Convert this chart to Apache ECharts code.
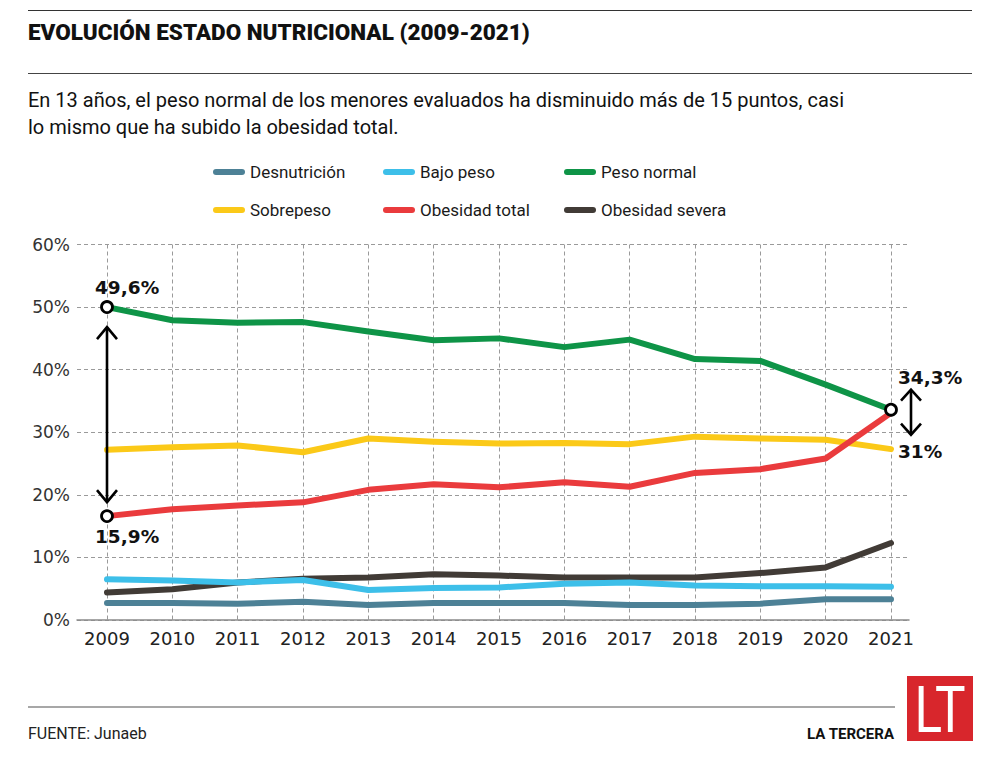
<!DOCTYPE html>
<html><head><meta charset="utf-8">
<script src="https://cdn.jsdelivr.net/npm/echarts@6/dist/echarts.min.js"></script>
<style>html,body{margin:0;padding:0;background:#fff}#c{width:999px;height:757px}</style>
</head><body><div id="c"></div>
<script>
// ---- data ----
const years = ['2009','2010','2011','2012','2013','2014','2015','2016','2017','2018','2019','2020','2021'];
const desnutricion   = [2.7, 2.7, 2.6, 2.9, 2.4, 2.7, 2.7, 2.7, 2.4, 2.4, 2.6, 3.3, 3.3];
const bajoPeso       = [6.5, 6.3, 6.0, 6.4, 4.8, 5.1, 5.2, 5.8, 6.0, 5.5, 5.4, 5.4, 5.3];
const pesoNormal     = [50.0, 47.9, 47.5, 47.6, 46.1, 44.7, 45.0, 43.6, 44.8, 41.7, 41.4, 37.6, 33.6];
const sobrepeso      = [27.2, 27.6, 27.9, 26.8, 29.0, 28.5, 28.2, 28.3, 28.1, 29.3, 29.0, 28.8, 27.3];
const obesidadTotal  = [16.6, 17.7, 18.3, 18.8, 20.8, 21.7, 21.2, 22.0, 21.3, 23.5, 24.1, 25.8, 33.1];
const obesidadSevera = [4.4, 4.9, 6.0, 6.6, 6.8, 7.3, 7.1, 6.8, 6.8, 6.8, 7.5, 8.4, 12.3];
const yMin = 0, yMax = 60, yStep = 10;
const annotations = ['49,6%', '15,9%', '34,3%', '31%'];

const titleText = 'EVOLUCIÓN ESTADO NUTRICIONAL (2009-2021)';
const subtitle1 = 'En 13 años, el peso normal de los menores evaluados ha disminuido más de 15 puntos, casi';
const subtitle2 = 'lo mismo que ha subido la obesidad total.';
const sourceText = 'FUENTE: Junaeb';
const brandText = 'LA TERCERA';
const logoText = 'LT';

const colors = {
  'Desnutrición': '#4d8196',
  'Bajo peso': '#3dbfe9',
  'Peso normal': '#0e9447',
  'Sobrepeso': '#fbc918',
  'Obesidad total': '#ea3b3d',
  'Obesidad severa': '#413b36'
};

const chart = echarts.init(document.getElementById('c'), null, {renderer: 'svg'});
const F = "Roboto, 'Noto Sans', sans-serif";
const A = "'DejaVu Sans', 'Noto Sans', sans-serif";

function legendCol(left, names) {
  return {
    orient: 'vertical', left: left, top: 162, padding: 0,
    itemWidth: 32, itemHeight: 6, itemGap: 18,
    icon: 'path://M3,0H29A3,3 0 0 1 29,6H3A3,3 0 0 1 3,0Z',
    data: names, selectedMode: false,
    textStyle: {fontFamily: F, fontSize: 17, color: '#1a1a1a', lineHeight: 20}
  };
}
function line(name, data, z) {
  return {
    name: name, type: 'line', data: data, xAxisIndex: 1, yAxisIndex: 1,
    showSymbol: false, symbol: 'none', z: z, animation: false,
    itemStyle: {color: colors[name]},
    lineStyle: {color: colors[name], width: 6, cap: 'round', join: 'round'}
  };
}

const dash = {type: [4, 3], color: '#9a9a9a', width: 1};
const gridTop = 244.5, gridBottom = 757 - 620;

chart.setOption({
  animation: false,
  backgroundColor: '#fff',
  legend: [
    legendCol(213, ['Desnutrición', 'Sobrepeso']),
    legendCol(383, ['Bajo peso', 'Obesidad total']),
    legendCol(564, ['Peso normal', 'Obesidad severa'])
  ],
  grid: [
    {left: 77, right: 999 - 909, top: gridTop, bottom: gridBottom},
    {left: 107, right: 999 - 891, top: gridTop, bottom: gridBottom}
  ],
  xAxis: [
    {gridIndex: 0, type: 'value', min: 0, max: 1, axisLabel: {show: false}, axisTick: {show: false},
     splitLine: {show: false}, axisLine: {show: true, lineStyle: {color: '#8a8a8a', width: 1.5}}},
    {gridIndex: 1, type: 'category', data: years, boundaryGap: false,
     axisLine: {show: false}, axisTick: {show: false},
     axisLabel: {fontFamily: A, fontSize: 18, color: '#222', margin: 9},
     splitLine: {show: true, lineStyle: dash}}
  ],
  yAxis: [
    {gridIndex: 0, type: 'value', min: yMin, max: yMax, interval: yStep,
     axisLine: {show: false}, axisTick: {show: false},
     axisLabel: {formatter: '{value}%', fontFamily: A, fontSize: 17, color: '#333', margin: 7,
                 verticalAlign: 'middle', padding: [0, 0, 12, 0]},
     splitLine: {show: true, lineStyle: dash}},
    {gridIndex: 1, type: 'value', min: yMin, max: yMax, interval: yStep, show: false, splitLine: {show: false}}
  ],
  series: [
    line('Desnutrición', desnutricion, 2),
    line('Obesidad severa', obesidadSevera, 3),
    line('Bajo peso', bajoPeso, 4),
    line('Sobrepeso', sobrepeso, 5),
    line('Obesidad total', obesidadTotal, 6),
    line('Peso normal', pesoNormal, 7),
    {type: 'scatter', xAxisIndex: 1, yAxisIndex: 1, z: 10, symbol: 'circle', symbolSize: 11,
     itemStyle: {color: '#fff', borderColor: '#000', borderWidth: 2.8, opacity: 1},
     data: [[0, pesoNormal[0]], [0, obesidadTotal[0]], [12, pesoNormal[12]]], silent: true}
  ]
});

// ---- annotations anchored to data positions ----
const pG0 = chart.convertToPixel({gridIndex: 1}, [0, pesoNormal[0]]);
const pR0 = chart.convertToPixel({gridIndex: 1}, [0, obesidadTotal[0]]);
const pG12 = chart.convertToPixel({gridIndex: 1}, [12, pesoNormal[12]]);

function dblArrow(x, y1, y2, hw, hh) {
  const st = {stroke: '#000', lineWidth: 2.6, fill: null, lineJoin: 'miter', lineCap: 'butt'};
  return [
    {type: 'line', shape: {x1: x, y1: y1 + 1, x2: x, y2: y2 - 1}, style: st, z: 20},
    {type: 'polyline', shape: {points: [[x - hw, y1 + hh], [x, y1], [x + hw, y1 + hh]]}, style: st, z: 20},
    {type: 'polyline', shape: {points: [[x - hw, y2 - hh], [x, y2], [x + hw, y2 - hh]]}, style: st, z: 20}
  ];
}
function annot(txt, x, y) {
  return {type: 'text', x: x, y: y, z: 20,
          style: {text: txt, fontFamily: A, fontWeight: 'bold', fontSize: 18.5, fill: '#111',
                  textAlign: 'left', textVerticalAlign: 'middle'}};
}
const rule = (x1, x2, y, c, w) => ({type: 'line', shape: {x1: x1, y1: y, x2: x2, y2: y}, style: {stroke: c, lineWidth: w}});

const g = [
  rule(28, 972, 10.5, '#333', 1),
  rule(28, 972, 73.5, '#444', 1),
  rule(28, 895, 707, '#8a8a8a', 1.5),
  {type: 'text', x: 28, y: 32, style: {text: titleText, fontFamily: F, fontWeight: 900, fontSize: 22.5, fill: '#111', textVerticalAlign: 'middle'}},
  {type: 'text', x: 28, y: 100, style: {text: subtitle1, fontFamily: F, fontSize: 20, fill: '#111', textVerticalAlign: 'middle'}},
  {type: 'text', x: 28, y: 127, style: {text: subtitle2, fontFamily: F, fontSize: 20, fill: '#111', textVerticalAlign: 'middle'}},
  {type: 'text', x: 28, y: 733, style: {text: sourceText, fontFamily: F, fontSize: 16, fill: '#222', textVerticalAlign: 'middle'}},
  {type: 'text', x: 894, y: 734, style: {text: brandText, fontFamily: F, fontWeight: 'bold', fontSize: 15, fill: '#111', textAlign: 'right', textVerticalAlign: 'middle'}},
  {type: 'rect', shape: {x: 907, y: 676, width: 66, height: 65}, style: {fill: '#d8262c'}},
  {type: 'text', x: 940, y: 710, scaleX: 0.8, z: 5,
   style: {text: logoText, fontFamily: F, fontSize: 64, fill: '#fff', textAlign: 'center', textVerticalAlign: 'middle'}},
  annot(annotations[0], pG0[0] - 12, pG0[1] - 20),
  annot(annotations[1], pR0[0] - 12, pR0[1] + 20),
  annot(annotations[2], pG12[0] + 7, pG12[1] - 32),
  annot(annotations[3], pG12[0] + 7, pG12[1] + 42)
]
.concat(dblArrow(pG0[0], pG0[1] + 20, pR0[1] - 14, 10, 12))
.concat(dblArrow(pG12[0] + 20, pG12[1] - 20, pG12[1] + 25, 10, 11));

chart.setOption({graphic: {elements: g}});
</script>
</body></html>
